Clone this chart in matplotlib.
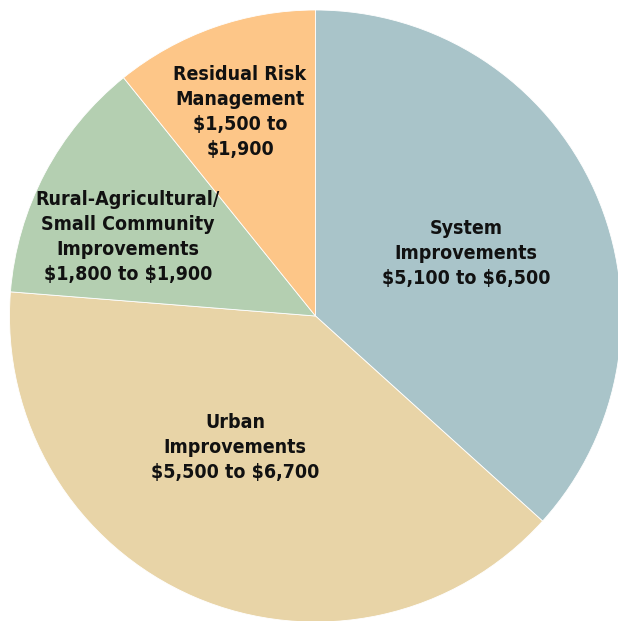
import numpy as np
import matplotlib.pyplot as plt
from matplotlib import font_manager

# datos del grafico (limite inferior de cada rango)
labels = ['System\nImprovements\n\\$5,100 to \\$6,500',
          'Urban\nImprovements\n\\$5,500 to \\$6,700',
          'Rural-Agricultural/\nSmall Community\nImprovements\n\\$1,800 to \\$1,900',
          'Residual Risk\nManagement\n\\$1,500 to\n\\$1,900']
values = [5100, 5500, 1800, 1500]
colors = ['#a9c4c9', '#e8d4a7', '#b4cfb1', '#fdc688']

# posicion de las etiquetas (angulo en grados, distancia relativa al radio)
label_ang = [22.4, 238.5, 157.2, 110.3]
label_dist = [0.532, 0.504, 0.665, 0.711]

# buscar una fuente condensada
fuentes = [(f.name, f.stretch) for f in font_manager.fontManager.ttflist]
if any(n == 'Liberation Sans Narrow' for n, s in fuentes):
    fam, stretch = 'Liberation Sans Narrow', 'normal'
else:
    fam, stretch = 'DejaVu Sans', 'condensed'

W, H = 618, 621
cx, cy, R = 315.5, 316, 306

fig = plt.figure(figsize=(W / 100, H / 100), dpi=100)
ax = fig.add_axes([0, 0, 1, 1])

ax.pie(values, colors=colors, startangle=90, counterclock=False, radius=1,
       wedgeprops=dict(edgecolor='white', linewidth=0.6))

for lab, a, d in zip(labels, label_ang, label_dist):
    t = np.deg2rad(a)
    ax.text(d * np.cos(t), d * np.sin(t), lab, ha='center', va='center',
            fontsize=14, fontweight='bold', family=fam, stretch=stretch,
            color='#111111', linespacing=1.4)

ax.set_aspect('auto')
ax.set_xlim(-cx / R, (W - cx) / R)
ax.set_ylim(-(H - cy) / R, cy / R)
ax.axis('off')

plt.savefig('out.png', dpi=100)
